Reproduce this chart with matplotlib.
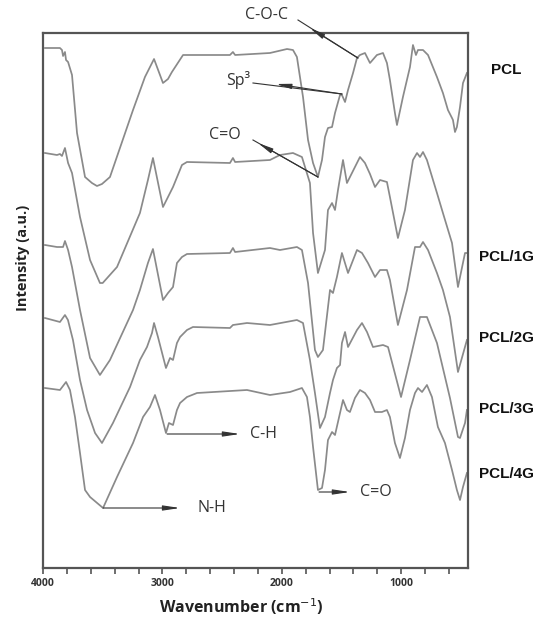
import matplotlib
matplotlib.use("Agg")
import matplotlib.pyplot as plt

# ---------------- data (wavenumber in cm-1, intensity in a.u., offset-stacked) ----------------
pcl_wn = [3983, 3858, 3841, 3832, 3816, 3807, 3790, 3757, 3715, 3648,
          3590, 3548, 3506, 3439, 3246, 3146, 3070, 2995, 2953, 2920,
          2827, 2685, 2434, 2409, 2391, 2099, 1956, 1906, 1873, 1822,
          1780, 1738, 1697, 1663, 1638, 1613, 1579, 1554, 1512, 1496,
          1470, 1445, 1403, 1370, 1345, 1303, 1261, 1203, 1152, 1119,
          1094, 1052, 1035, 985, 926, 901, 876, 859, 817, 775,
          700, 650, 608, 574, 566, 549, 533, 507, 482, 449]
pcl_int = [520, 520, 518, 512, 516, 508, 506, 493, 435, 391,
           385, 382, 384, 391, 458, 491, 509, 485, 489, 496,
           513, 513, 513, 516, 513, 515, 519, 518, 511, 471,
           428, 405, 391, 408, 431, 440, 441, 455, 473, 473,
           466, 478, 495, 510, 513, 515, 505, 513, 515, 505,
           488, 455, 443, 471, 501, 523, 513, 518, 518, 513,
           491, 475, 458, 450, 448, 436, 441, 461, 485, 495]

g1_wn = [3983, 3883, 3858, 3841, 3816, 3790, 3757, 3690, 3606, 3523,
         3500, 3380, 3188, 3121, 3079, 2995, 2953, 2911, 2836, 2794,
         2434, 2409, 2391, 2099, 2015, 1906, 1831, 1764, 1738, 1697,
         1638, 1613, 1579, 1554, 1529, 1487, 1454, 1412, 1345, 1303,
         1261, 1219, 1177, 1119, 1094, 1027, 968, 901, 867, 842,
         817, 784, 700, 650, 574, 524, 465, 449]
g1_int = [415, 413, 414, 412, 420, 405, 395, 351, 308, 285,
          285, 301, 355, 388, 410, 361, 371, 381, 403, 406,
          405, 410, 406, 408, 413, 415, 411, 385, 335, 295,
          318, 358, 365, 358, 378, 408, 385, 395, 411, 405,
          394, 381, 388, 386, 371, 330, 358, 408, 415, 411,
          416, 408, 375, 355, 325, 281, 315, 315]

g2_wn = [3983, 3883, 3832, 3816, 3790, 3757, 3690, 3606, 3523, 3439,
         3246, 3188, 3121, 3079, 2995, 2953, 2911, 2878, 2836, 2794,
         2434, 2409, 2391, 2099, 2015, 1873, 1831, 1780, 1722, 1697,
         1655, 1596, 1571, 1538, 1496, 1445, 1370, 1328, 1278, 1219,
         1177, 1119, 1094, 1027, 951, 884, 842, 817, 775, 700,
         650, 591, 524, 449]
g2_int = [323, 321, 321, 327, 318, 301, 258, 210, 193, 208,
          258, 278, 305, 319, 268, 275, 281, 305, 311, 314,
          315, 320, 316, 320, 318, 321, 318, 285, 218, 211,
          218, 278, 275, 291, 315, 295, 318, 315, 305, 291,
          298, 298, 288, 243, 278, 321, 321, 326, 318, 295,
          278, 251, 196, 228]

g3_wn = [3983, 3858, 3816, 3791, 3749, 3690, 3631, 3564, 3506, 3414,
         3271, 3188, 3129, 3087, 3070, 3037, 2970, 2936, 2911, 2878,
         2852, 2794, 2744, 2434, 2409, 2291, 2099, 1873, 1822, 1764,
         1722, 1680, 1638, 1596, 1571, 1538, 1512, 1496, 1470, 1445,
         1370, 1328, 1286, 1236, 1152, 1110, 1001, 926, 842, 784,
         700, 591, 524, 507, 465, 449]
g3_int = [250, 246, 253, 248, 228, 188, 158, 135, 125, 145,
          181, 208, 221, 235, 245, 231, 200, 210, 208, 225,
          231, 238, 241, 240, 243, 245, 243, 248, 245, 208,
          175, 140, 151, 175, 188, 200, 203, 225, 236, 221,
          238, 245, 236, 221, 223, 221, 171, 208, 251, 251,
          225, 170, 131, 130, 145, 158]

g4_wn = [3983, 3858, 3807, 3774, 3732, 3690, 3648, 3606, 3497, 3380,
         3246, 3162, 3104, 3062, 3020, 2970, 2945, 2911, 2878, 2852,
         2794, 2710, 2291, 2099, 1931, 1831, 1789, 1764, 1738, 1697,
         1663, 1638, 1613, 1579, 1554, 1512, 1487, 1454, 1429, 1387,
         1345, 1303, 1261, 1219, 1161, 1119, 1094, 1052, 1010, 968,
         926, 884, 859, 825, 784, 742, 692, 633, 574, 533,
         507, 482, 449]
g4_int = [180, 178, 186, 178, 151, 115, 78, 71, 60, 91,
          125, 151, 161, 173, 158, 135, 145, 143, 158, 165,
          171, 175, 178, 173, 176, 180, 171, 151, 121, 78,
          80, 98, 128, 136, 133, 155, 168, 158, 156, 170,
          178, 175, 168, 156, 156, 158, 151, 125, 110, 130,
          158, 175, 180, 176, 183, 171, 141, 125, 98, 78,
          68, 81, 95]

series_wn = [pcl_wn, g1_wn, g2_wn, g3_wn, g4_wn]
series_int = [pcl_int, g1_int, g2_int, g3_int, g4_int]
series_names = ["PCL", "PCL/1G", "PCL/2G", "PCL/3G", "PCL/4G"]
label_y = [498, 311, 230, 159, 94]

xticks_major = [4000, 3000, 2000, 1000]
xtick_labels = ["4000", "3000", "2000", "1000"]
xticks_minor = list(range(4000, 400, -200))

for a, b in zip(series_wn, series_int):
    assert len(a) == len(b), (len(a), len(b))

# ---------------- figure ----------------
W, H = 540, 621
fig = plt.figure(figsize=(W / 100, H / 100), dpi=100)
ax = fig.add_axes([43 / W, 53 / H, 425 / W, 535 / H])

line_col = "#8a8a8a"
for wn, it in zip(series_wn, series_int):
    ax.plot(wn, it, color=line_col, lw=1.25, solid_joinstyle="round")

ax.set_xlim(4000, 440)
ax.set_ylim(0, 535)

for s in ax.spines.values():
    s.set_color("#555555")
    s.set_linewidth(1.6)

ax.set_xticks(xticks_major)
ax.set_xticklabels(xtick_labels, fontsize=7.5, fontweight="bold", color="#333333",
                   family="Open Sans")
ax.set_xticks(xticks_minor, minor=True)
ax.tick_params(axis="x", which="both", direction="out", length=4, width=1.2,
               color="#555555", pad=3)
ax.set_yticks([])

fig.text(241 / W, 1 - 607 / H, "Wavenumber (cm$^{-1}$)", ha="center", va="center",
         fontsize=11.5, fontweight="bold", family="Open Sans", color="#222222")
fig.text(23 / W, 1 - 258 / H, "Intensity (a.u.)", rotation=90, ha="center", va="center",
         fontsize=10.5, fontweight="bold", family="Open Sans", color="#222222")

# right-hand sample labels
for name, ly in zip(series_names, label_y):
    ax.text(1.0 + 38 / 425, ly, name, transform=ax.get_yaxis_transform(),
            ha="center", va="center", fontsize=11, fontweight="bold",
            family="Liberation Sans", color="#111111")

ann_col = "#333333"
ann_font = dict(fontsize=11.5, family="Open Sans", color="#333333")


def mid_arrow(start, end, tip):
    ax.plot([start[0], end[0]], [start[1], end[1]], color=ann_col, lw=0.8, clip_on=False)
    ax.annotate("", xy=tip, xytext=start, annotation_clip=False,
                arrowprops=dict(arrowstyle="-|>,head_length=0.9,head_width=0.15",
                                color=ann_col, lw=0.8, shrinkA=0, shrinkB=0))


# upper annotations
mid_arrow((1362, 510), (1864, 548), (1764, 540))
ax.text(2132, 553, "C-O-C", ha="center", va="center", clip_on=False, **ann_font)
mid_arrow((1496, 474), (2241, 485), (2048, 484))
ax.text(2367, 488, "Sp\u00b3", ha="center", va="center", **ann_font)
mid_arrow((1697, 391), (2241, 428), (2199, 425))
ax.text(2476, 433, "C=O", ha="center", va="center", **ann_font)

# lower annotations
for start, end, txt_x, txt in [((2961, 134), (2350, 134), 2266, "C-H"),
                               ((3497, 60), (2852, 60), 2710, "N-H"),
                               ((1688, 76), (1429, 76), 1345, "C=O")]:
    ax.annotate("", xy=end, xytext=start,
                arrowprops=dict(arrowstyle="-|>,head_length=1.0,head_width=0.15",
                                color=ann_col, lw=0.8, shrinkA=0, shrinkB=0))
    ax.text(txt_x, start[1], txt, ha="left", va="center", **ann_font)

fig.savefig("out.png", dpi=100, facecolor="white")
